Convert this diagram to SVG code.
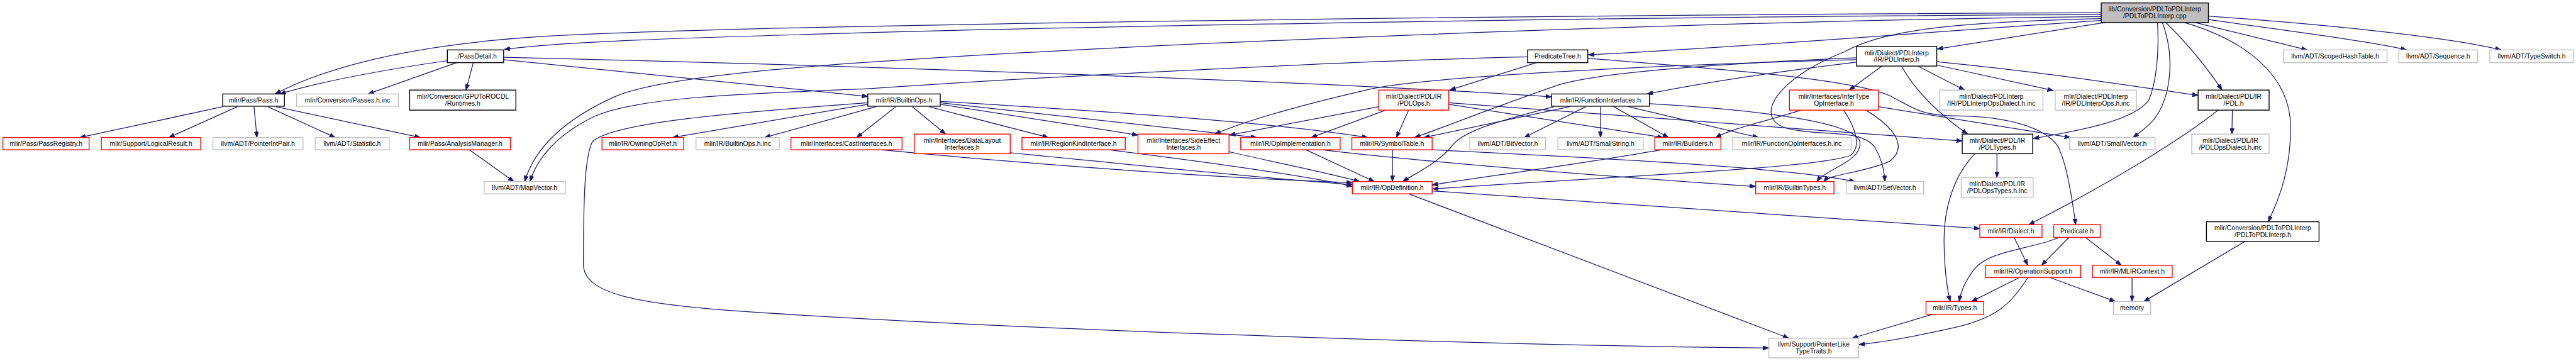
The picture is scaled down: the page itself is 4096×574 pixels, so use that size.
<svg xmlns="http://www.w3.org/2000/svg" width="4096" height="574" viewBox="0 0 4096 574">
<style>
.n rect{fill:#fff;stroke-width:1.8}
.blk rect{stroke:#000}
.red rect{stroke:#f00}
.gry rect{stroke:#bfbfbf}
.root rect{fill:#bfbfbf;stroke:#000}
text{font-family:"Liberation Sans",Arial,Helvetica,sans-serif;font-size:13.5px;text-anchor:middle;fill:#000}
#edges path{fill:none;stroke:#191970;stroke-width:1.6;marker-end:url(#ah)}
</style>
<defs>
<marker id="ah" viewBox="0 0 12 9" refX="12" refY="4.5" markerWidth="12" markerHeight="9" markerUnits="userSpaceOnUse" orient="auto"><path d="M0,0 L12,4.5 L0,9 z" fill="#191970" stroke="#191970" stroke-width="1"/></marker>
</defs>
<rect width="4096" height="574" fill="#fff"/>
<g transform="scale(0.77826)">
<g id="edges">
<path d="M4293,26 C3200,30 1500,50 1100,75 C900,88 700,120 562,192"/>
<path d="M4293,30 C3400,32 2200,55 1760,67 C1450,76 1150,84 1030,101"/>
<path d="M4293,34 C3500,42 2300,90 1760,128 C1500,146 1320,168 1255,198 C1140,250 1090,310 1072,371"/>
<path d="M4293,42 C4000,60 3600,95 3245,112"/>
<path d="M4300,46 L3958,100"/>
<path d="M4293,38 C4000,45 3850,60 3770,105 C3630,160 3580,240 3650,262 C3720,280 3800,262 3830,300 C3845,325 3850,350 3851,371"/>
<path d="M4425,46 C4470,90 4510,140 4540,184"/>
<path d="M4463,46 C4580,80 4680,150 4680,260 C4680,340 4660,400 4634,453"/>
<path d="M4485,46 L4714,102"/>
<path d="M4512,40 C4650,60 4850,85 4917,102"/>
<path d="M4512,33 C4750,50 5000,75 5110,102"/>
<path d="M4408,46 C4412,110 4405,170 4390,205 C4360,245 4260,265 4154,283"/>
<path d="M4418,46 C4445,120 4435,200 4400,245 C4385,262 4370,272 4358,281"/>
<path d="M914,124 C800,140 660,165 572,192"/>
<path d="M933,128 L752,192"/>
<path d="M967,128 L952,184"/>
<path d="M1029,122 L1773,197"/>
<path d="M1029,117 C1600,130 2700,165 3170,198"/>
<path d="M455,218 L163,281"/>
<path d="M485,218 L345,281"/>
<path d="M519,218 L525,281"/>
<path d="M547,218 L685,281"/>
<path d="M564,218 L859,281"/>
<path d="M959,306 L1050,371"/>
<path d="M3121,116 C2700,126 2000,165 1760,182 C1500,192 1290,200 1210,240 C1130,280 1095,330 1083,371"/>
<path d="M3139,128 L2962,184"/>
<path d="M3244,119 C3500,140 3780,160 3860,195 C3910,220 3920,236 4000,237 C4100,238 4180,260 4205,300 C4225,340 4235,420 4241,459"/>
<path d="M1773,213 L1374,281"/>
<path d="M1790,218 L1562,281"/>
<path d="M1773,210 C1500,230 1250,250 1210,290 C1195,320 1192,400 1192,540 C1192,600 1300,620 1500,635 C2000,670 3000,705 3614,711"/>
<path d="M1830,218 L1750,281"/>
<path d="M1864,218 L1932,274"/>
<path d="M1898,218 L2142,281"/>
<path d="M1921,213 L2325,276"/>
<path d="M1921,210 L2568,281"/>
<path d="M1921,207 C2300,230 2600,250 2795,281"/>
<path d="M1800,306 C2100,335 2500,365 2763,373"/>
<path d="M2064,312 C2300,335 2550,362 2763,377"/>
<path d="M2265,306 C2500,335 2700,365 2763,381"/>
<path d="M2511,310 C2620,335 2720,355 2778,371"/>
<path d="M2668,306 L2808,371"/>
<path d="M2845,306 L2845,371"/>
<path d="M3175,218 C3050,250 2985,270 2965,300 C2935,335 2890,355 2866,371"/>
<path d="M3395,306 C3200,340 3000,365 2926,378"/>
<path d="M2700,306 C2900,330 3300,362 3587,381"/>
<path d="M3370,212 C3600,225 3790,250 3800,290 C3805,330 3730,345 3712,371"/>
<path d="M3812,225 C3870,260 3900,300 3860,330 C3800,355 3740,355 3726,371"/>
<path d="M3767,225 C3790,260 3805,300 3780,318 C3700,345 3300,360 2927,386"/>
<path d="M3327,218 L3593,281"/>
<path d="M3240,218 L3114,281"/>
<path d="M3270,218 L3270,281"/>
<path d="M3297,218 L3409,281"/>
<path d="M3207,218 L2909,281"/>
<path d="M2878,225 L2853,281"/>
<path d="M2831,225 L2679,281"/>
<path d="M2817,218 L2512,276"/>
<path d="M2960,213 L3398,281"/>
<path d="M2960,210 C3300,235 3700,265 4009,288"/>
<path d="M3845,135 L3778,184"/>
<path d="M3885,135 C3910,180 3950,225 4020,274"/>
<path d="M3918,135 L4014,184"/>
<path d="M3957,133 L4195,185"/>
<path d="M3957,126 C4200,150 4350,175 4491,195"/>
<path d="M3793,127 C3600,150 3450,175 3365,192"/>
<path d="M3793,118 C3500,130 3250,150 3180,175 C3050,220 2950,260 2890,281"/>
<path d="M3793,122 C3300,135 2900,160 2800,182 C2700,205 2560,240 2482,274"/>
<path d="M3680,225 C3600,250 3540,262 3505,281"/>
<path d="M3838,218 L4230,281"/>
<path d="M4035,314 C3990,360 3970,430 3972,500 C3973,560 3980,600 3985,616"/>
<path d="M4080,314 L4080,363"/>
<path d="M4532,225 C4450,290 4300,380 4145,459"/>
<path d="M4561,225 L4560,274"/>
<path d="M2926,306 C3200,320 3650,340 3790,371"/>
<path d="M2926,390 C3300,415 3700,445 4045,467"/>
<path d="M2878,396 L3655,691"/>
<path d="M4115,485 L4143,542"/>
<path d="M4227,485 L4171,542"/>
<path d="M4261,485 L4334,542"/>
<path d="M4207,485 C4150,510 4060,510 4030,555 C4012,580 4005,600 4003,616"/>
<path d="M4126,567 L4028,616"/>
<path d="M4143,567 C4110,620 4080,650 3990,670 C3900,690 3840,700 3798,704"/>
<path d="M4188,567 L4322,616"/>
<path d="M4356,567 L4356,616"/>
<path d="M3949,642 L3784,691"/>
<path d="M4587,493 L4380,616"/>
</g>
<g id="cpp" class="n root"><rect x="4293" y="6" width="219" height="40"/><text x="4402.5" y="23.5">lib/Conversion/PDLToPDLInterp</text><text x="4402.5" y="37.5">/PDLToPDLInterp.cpp</text></g>
<g id="passdetail" class="n blk"><rect x="914" y="102" width="115" height="26"/><text x="971.5" y="120">../PassDetail.h</text></g>
<g id="predicatetree" class="n blk"><rect x="3121" y="102" width="123" height="26"/><text x="3182.5" y="120">PredicateTree.h</text></g>
<g id="pdlinterp" class="n blk"><rect x="3793" y="95" width="164" height="40"/><text x="3875" y="112.5">mlir/Dialect/PDLInterp</text><text x="3875" y="126.5">/IR/PDLInterp.h</text></g>
<g id="scopedhashtable" class="n gry"><rect x="4665" y="102" width="212" height="26"/><text x="4771" y="120">llvm/ADT/ScopedHashTable.h</text></g>
<g id="sequence" class="n gry"><rect x="4901" y="102" width="161" height="26"/><text x="4981.5" y="120">llvm/ADT/Sequence.h</text></g>
<g id="typeswitch" class="n gry"><rect x="5087" y="102" width="171" height="26"/><text x="5172.5" y="120">llvm/ADT/TypeSwitch.h</text></g>
<g id="pass" class="n blk"><rect x="455" y="192" width="126" height="25"/><text x="518" y="209.5">mlir/Pass/Pass.h</text></g>
<g id="passesinc" class="n gry"><rect x="606" y="192" width="208" height="25"/><text x="710" y="209.5">mlir/Conversion/Passes.h.inc</text></g>
<g id="gputorocdl" class="n blk"><rect x="837" y="184" width="217" height="41"/><text x="945.5" y="201.5">mlir/Conversion/GPUToROCDL</text><text x="945.5" y="215.5">/Runtimes.h</text></g>
<g id="builtinops" class="n blk"><rect x="1773" y="192" width="148" height="25"/><text x="1847" y="209.5">mlir/IR/BuiltinOps.h</text></g>
<g id="pdlops" class="n red"><rect x="2817" y="184" width="143" height="41"/><text x="2888.5" y="201.5">mlir/Dialect/PDL/IR</text><text x="2888.5" y="215.5">/PDLOps.h</text></g>
<g id="functioninterfaces" class="n blk"><rect x="3170" y="192" width="200" height="25"/><text x="3270" y="209.5">mlir/IR/FunctionInterfaces.h</text></g>
<g id="infertype" class="n red"><rect x="3656" y="184" width="182" height="41"/><text x="3747" y="201.5">mlir/Interfaces/InferType</text><text x="3747" y="215.5">OpInterface.h</text></g>
<g id="pdlinterpdialectinc" class="n gry"><rect x="3963" y="184" width="211" height="41"/><text x="4068.5" y="201.5">mlir/Dialect/PDLInterp</text><text x="4068.5" y="215.5">/IR/PDLInterpOpsDialect.h.inc</text></g>
<g id="pdlinterpopsinc" class="n gry"><rect x="4199" y="184" width="166" height="41"/><text x="4282" y="201.5">mlir/Dialect/PDLInterp</text><text x="4282" y="215.5">/IR/PDLInterpOps.h.inc</text></g>
<g id="pdl" class="n blk"><rect x="4491" y="184" width="145" height="41"/><text x="4563.5" y="201.5">mlir/Dialect/PDL/IR</text><text x="4563.5" y="215.5">/PDL.h</text></g>
<g id="passregistry" class="n red"><rect x="6" y="281" width="176" height="25"/><text x="94" y="298.5">mlir/Pass/PassRegistry.h</text></g>
<g id="logicalresult" class="n red"><rect x="207" y="281" width="203" height="25"/><text x="308.5" y="298.5">mlir/Support/LogicalResult.h</text></g>
<g id="pointerintpair" class="n gry"><rect x="435" y="281" width="184" height="25"/><text x="527" y="298.5">llvm/ADT/PointerIntPair.h</text></g>
<g id="statistic" class="n gry"><rect x="644" y="281" width="151" height="25"/><text x="719.5" y="298.5">llvm/ADT/Statistic.h</text></g>
<g id="analysismanager" class="n red"><rect x="837" y="281" width="206" height="25"/><text x="940" y="298.5">mlir/Pass/AnalysisManager.h</text></g>
<g id="owningopref" class="n red"><rect x="1230" y="281" width="167" height="25"/><text x="1313.5" y="298.5">mlir/IR/OwningOpRef.h</text></g>
<g id="builtinopsinc" class="n gry"><rect x="1422" y="281" width="170" height="25"/><text x="1507" y="298.5">mlir/IR/BuiltinOps.h.inc</text></g>
<g id="castinterfaces" class="n red"><rect x="1616" y="281" width="227" height="25"/><text x="1729.5" y="298.5">mlir/Interfaces/CastInterfaces.h</text></g>
<g id="datalayout" class="n red"><rect x="1868" y="274" width="196" height="40"/><text x="1966" y="291.5">mlir/Interfaces/DataLayout</text><text x="1966" y="305.5">Interfaces.h</text></g>
<g id="regionkind" class="n red"><rect x="2088" y="281" width="211" height="25"/><text x="2193.5" y="298.5">mlir/IR/RegionKindInterface.h</text></g>
<g id="sideeffect" class="n red"><rect x="2325" y="274" width="186" height="40"/><text x="2418" y="291.5">mlir/Interfaces/SideEffect</text><text x="2418" y="305.5">Interfaces.h</text></g>
<g id="opimplementation" class="n red"><rect x="2535" y="281" width="203" height="25"/><text x="2636.5" y="298.5">mlir/IR/OpImplementation.h</text></g>
<g id="symboltable" class="n red"><rect x="2762" y="281" width="164" height="25"/><text x="2844" y="298.5">mlir/IR/SymbolTable.h</text></g>
<g id="bitvector" class="n gry"><rect x="3003" y="281" width="155" height="25"/><text x="3080.5" y="298.5">llvm/ADT/BitVector.h</text></g>
<g id="smallstring" class="n gry"><rect x="3183" y="281" width="174" height="25"/><text x="3270" y="298.5">llvm/ADT/SmallString.h</text></g>
<g id="builders" class="n red"><rect x="3381" y="281" width="135" height="25"/><text x="3448.5" y="298.5">mlir/IR/Builders.h</text></g>
<g id="functionopinterfacesinc" class="n gry"><rect x="3540" y="281" width="242" height="25"/><text x="3661" y="298.5">mlir/IR/FunctionOpInterfaces.h.inc</text></g>
<g id="pdltypes" class="n blk"><rect x="4009" y="274" width="144" height="40"/><text x="4081" y="291.5">mlir/Dialect/PDL/IR</text><text x="4081" y="305.5">/PDLTypes.h</text></g>
<g id="smallvector" class="n gry"><rect x="4228" y="281" width="175" height="25"/><text x="4315.5" y="298.5">llvm/ADT/SmallVector.h</text></g>
<g id="pdldialectinc" class="n gry"><rect x="4478" y="274" width="158" height="40"/><text x="4557" y="291.5">mlir/Dialect/PDL/IR</text><text x="4557" y="305.5">/PDLOpsDialect.h.inc</text></g>
<g id="mapvector" class="n gry"><rect x="989" y="371" width="166" height="25"/><text x="1072" y="388.5">llvm/ADT/MapVector.h</text></g>
<g id="opdefinition" class="n red"><rect x="2763" y="371" width="163" height="25"/><text x="2844.5" y="388.5">mlir/IR/OpDefinition.h</text></g>
<g id="builtintypes" class="n red"><rect x="3587" y="371" width="160" height="25"/><text x="3667" y="388.5">mlir/IR/BuiltinTypes.h</text></g>
<g id="setvector" class="n gry"><rect x="3772" y="371" width="158" height="25"/><text x="3851" y="388.5">llvm/ADT/SetVector.h</text></g>
<g id="pdltypesinc" class="n gry"><rect x="4007" y="363" width="147" height="40"/><text x="4080.5" y="380.5">mlir/Dialect/PDL/IR</text><text x="4080.5" y="394.5">/PDLOpsTypes.h.inc</text></g>
<g id="dialect" class="n red"><rect x="4045" y="459" width="127" height="26"/><text x="4108.5" y="477">mlir/IR/Dialect.h</text></g>
<g id="predicate" class="n red"><rect x="4196" y="459" width="95" height="26"/><text x="4243.5" y="477">Predicate.h</text></g>
<g id="pdltopdlinterph" class="n blk"><rect x="4508" y="453" width="230" height="40"/><text x="4623" y="470.5">mlir/Conversion/PDLToPDLInterp</text><text x="4623" y="484.5">/PDLToPDLInterp.h</text></g>
<g id="operationsupport" class="n red"><rect x="4057" y="542" width="194" height="25"/><text x="4154" y="559.5">mlir/IR/OperationSupport.h</text></g>
<g id="mlircontext" class="n red"><rect x="4275" y="542" width="163" height="25"/><text x="4356.5" y="559.5">mlir/IR/MLIRContext.h</text></g>
<g id="types" class="n red"><rect x="3935" y="616" width="118" height="26"/><text x="3994" y="634">mlir/IR/Types.h</text></g>
<g id="memory" class="n gry"><rect x="4318" y="616" width="76" height="26"/><text x="4356" y="634">memory</text></g>
<g id="pointerliketypetraits" class="n gry"><rect x="3614" y="691" width="183" height="40"/><text x="3705.5" y="708.5">llvm/Support/PointerLike</text><text x="3705.5" y="722.5">TypeTraits.h</text></g>
</g>
</svg>
